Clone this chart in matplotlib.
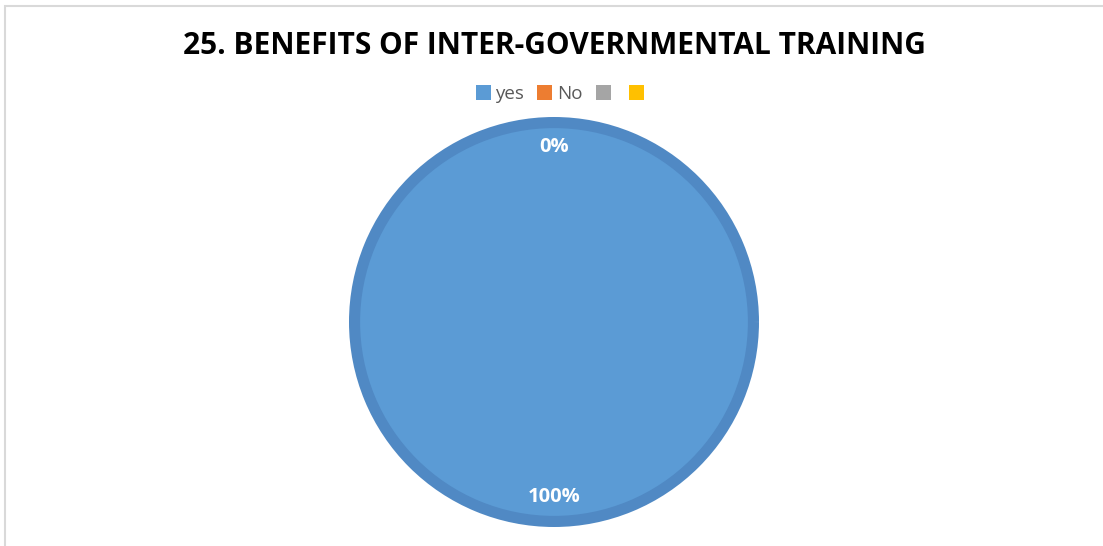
import matplotlib
matplotlib.use("Agg")
import matplotlib.pyplot as plt
from matplotlib.patches import Rectangle, Patch

categories = ["yes", "No", "", ""]
values = [100, 0, 0, 0]
shown_labels = ["100%", "0%", "", ""]
colors = ["#5B9BD5", "#ED7D31", "#A5A5A5", "#FFC000"]
title = "25. BENEFITS OF INTER-GOVERNMENTAL TRAINING"

plt.rcParams["font.family"] = ["Open Sans", "DejaVu Sans"]

fig = plt.figure(figsize=(11.03, 5.46), dpi=100)
fig.patch.set_facecolor("white")

# light chart-area border (top and left visible)
fig.add_artist(Rectangle((5 / 1103, -0.1), 1.2, 1 - 6 / 546 + 0.1,
                         transform=fig.transFigure, fill=False,
                         edgecolor="#D9D9D9", linewidth=1.5))

# pie: centre ~(554, 322), outer radius ~205 px
r = 205
cx, cy = 554, 322
ax = fig.add_axes([(cx - r) / 1103, (546 - cy - r) / 546, 2 * r / 1103, 2 * r / 546])

edge_pt = 8
edge_px = edge_pt * 100 / 72
lab_iter = iter(shown_labels)
wedges, _, autotexts = ax.pie(values, colors=colors, startangle=90, counterclock=False,
                              radius=(r - edge_px / 2) / r,
                              autopct=lambda p: next(lab_iter), pctdistance=0.875,
                              wedgeprops=dict(edgecolor="#5089C4", linewidth=edge_pt),
                              textprops=dict(color="white", fontsize=14.5, fontweight="bold"))
for w in wedges[1:]:
    w.set_linewidth(0)
ax.set_xlim(-1.0, 1.0)
ax.set_ylim(-1.0, 1.0)
ax.set_aspect("equal")

fig.text(cx / 1103, 1 - 46 / 546, title, ha="center", va="center",
         fontsize=21.5, fontweight="bold", color="black")

handles = [Patch(facecolor=c, edgecolor="none") for c in colors]
leg = fig.legend(handles, categories, loc="center", bbox_to_anchor=(562 / 1103, 1 - 94 / 546),
                 ncol=4, frameon=False, fontsize=13.5, handlelength=0.8, handleheight=0.8,
                 handletextpad=0.25, columnspacing=0.7, labelcolor="#595959")

fig.savefig("out.png", dpi=100, facecolor="white")
